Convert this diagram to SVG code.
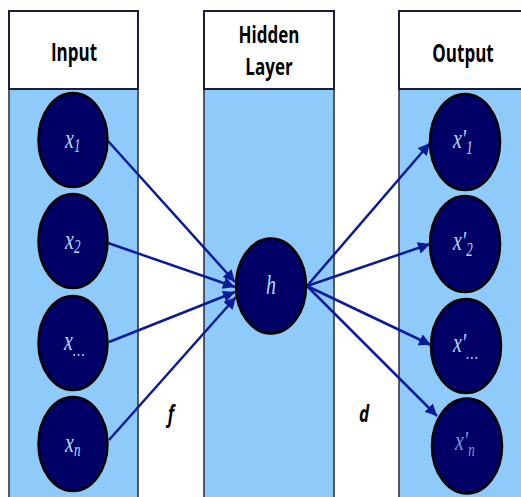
<svg xmlns="http://www.w3.org/2000/svg" width="521" height="497" viewBox="0 0 521 497">
  <style>
    .head { fill: #ffffff; stroke: #1c1c3c; stroke-width: 2; }
    .body { fill: #8ecbfb; stroke: #2a2a3a; stroke-width: 1.5; }
    .node { fill: #000066; stroke: #000000; stroke-width: 2.5; }
    .htxt { font-family: "Open Sans", "DejaVu Sans", sans-serif; font-weight: 700; font-size: 17px; fill: #000000; text-anchor: middle; }
    .ntxt { font-family: "Liberation Serif", serif; font-style: italic; font-size: 20px; fill: #b4dcff; }
    .sub { font-size: 13px; }
    .lbl { font-family: "Open Sans", "DejaVu Sans", sans-serif; font-weight: 700; font-style: italic; font-size: 17px; fill: #000000; text-anchor: middle; }
    .edge { stroke: #0a1a9c; stroke-width: 2.5; fill: none; marker-end: url(#arrow); }
  </style>
  <defs>
    <marker id="arrow" markerUnits="userSpaceOnUse" markerWidth="14" markerHeight="12" refX="12" refY="6" orient="auto">
      <path d="M0,0 L12,6 L0,12 Z" fill="#0a1a9c"/>
    </marker>
  </defs>

  <!-- columns -->
  <g id="col-input">
    <rect class="body" x="9" y="89" width="129" height="420"/>
    <rect class="head" x="9" y="11" width="129" height="78"/>
    <text class="htxt" transform="translate(74,61) scale(1,1.5)">Input</text>
  </g>
  <g id="col-hidden">
    <rect class="body" x="204" y="89" width="130" height="420"/>
    <rect class="head" x="204" y="11" width="130" height="78"/>
    <text class="htxt" transform="translate(269,43) scale(1,1.37)"><tspan x="0" y="0">Hidden</tspan><tspan x="0" y="23.4">Layer</tspan></text>
  </g>
  <g id="col-output">
    <rect class="body" x="399" y="89" width="130" height="420"/>
    <rect class="head" x="399" y="11" width="130" height="78"/>
    <text class="htxt" transform="translate(463,62) scale(1,1.5)">Output</text>
  </g>

  <!-- connectors -->
  <g id="connectors">
    <line class="edge" x1="108" y1="141" x2="235" y2="282"/>
    <line class="edge" x1="108" y1="243" x2="235" y2="287"/>
    <line class="edge" x1="109" y1="342" x2="235" y2="292"/>
    <line class="edge" x1="109" y1="440" x2="236" y2="297"/>
    <line class="edge" x1="307" y1="286" x2="430" y2="143"/>
    <line class="edge" x1="307" y1="286" x2="430" y2="244"/>
    <line class="edge" x1="307" y1="286" x2="431" y2="345"/>
    <line class="edge" x1="307" y1="286" x2="437" y2="416"/>
  </g>

  <!-- input nodes -->
  <g id="x1">
    <ellipse class="node" cx="73" cy="140" rx="34.5" ry="47"/>
    <text class="ntxt" transform="translate(65,148) scale(1,1.38)">x<tspan class="sub" dy="3">1</tspan></text>
  </g>
  <g id="x2">
    <ellipse class="node" cx="73" cy="241" rx="34.5" ry="47"/>
    <text class="ntxt" transform="translate(65,249) scale(1,1.38)">x<tspan class="sub" dy="3">2</tspan></text>
  </g>
  <g id="x3">
    <ellipse class="node" cx="73" cy="343" rx="34.5" ry="47"/>
    <text class="ntxt" transform="translate(64,350) scale(1,1.38)">x<tspan class="sub" dy="4">…</tspan></text>
  </g>
  <g id="xn">
    <ellipse class="node" cx="73" cy="444" rx="34.5" ry="47"/>
    <text class="ntxt" transform="translate(65,452) scale(1,1.38)">x<tspan class="sub" dy="3">n</tspan></text>
  </g>

  <!-- hidden node -->
  <g id="h">
    <ellipse class="node" cx="271" cy="286" rx="35" ry="47.5"/>
    <text class="ntxt" transform="translate(266,294) scale(1,1.38)">h</text>
  </g>

  <!-- output nodes -->
  <g id="y1">
    <ellipse class="node" cx="465" cy="142" rx="35" ry="48"/>
    <text class="ntxt" transform="translate(453,148) scale(1,1.38)">x'<tspan class="sub" dy="4">1</tspan></text>
  </g>
  <g id="y2">
    <ellipse class="node" cx="465" cy="244" rx="35" ry="48"/>
    <text class="ntxt" transform="translate(453,250) scale(1,1.38)">x'<tspan class="sub" dy="4">2</tspan></text>
  </g>
  <g id="y3">
    <ellipse class="node" cx="466" cy="346" rx="35" ry="47"/>
    <text class="ntxt" transform="translate(453,352) scale(1,1.38)">x'<tspan class="sub" dy="5">…</tspan></text>
  </g>
  <g id="yn">
    <ellipse class="node" cx="467" cy="446" rx="35" ry="47.5"/>
    <text class="ntxt" transform="translate(455,450) scale(1,1.38)" fill-opacity="0.7">x'<tspan class="sub" dy="4">n</tspan></text>
  </g>

  <!-- function labels -->
  <text class="lbl" transform="translate(171,422) scale(1,1.4)">f</text>
  <text class="lbl" transform="translate(364,422) scale(1,1.4)">d</text>
</svg>
